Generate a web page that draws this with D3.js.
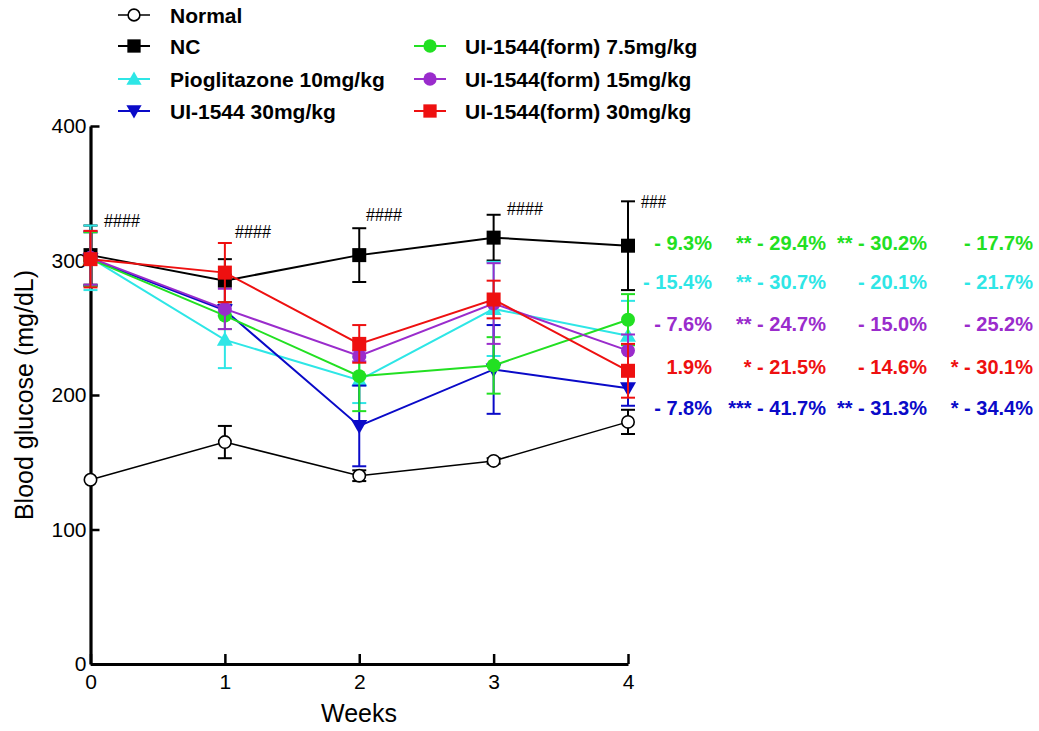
<!DOCTYPE html>
<html>
<head>
<meta charset="utf-8">
<script src="https://cdn.jsdelivr.net/npm/d3@7"></script>
<style>
  html, body { margin: 0; padding: 0; background: #fff; }
  svg { display: block; }
  text { font-family: "Liberation Sans", Arial, sans-serif; }
</style>
</head>
<body>
<svg id="chart" width="1039" height="731"></svg>
<script>
// ---------- data ----------
const weeks = [0, 1, 2, 3, 4];
const weekTickLabels = ["0", "1", "2", "3", "4"];
const yTickValues = [0, 100, 200, 300, 400];

const seriesNames = ["Normal", "NC", "Pioglitazone 10mg/kg", "UI-1544 30mg/kg",
  "UI-1544(form) 7.5mg/kg", "UI-1544(form) 15mg/kg", "UI-1544(form) 30mg/kg"];

const normalMean = [137, 165, 140, 151, 180];
const normalErr  = [0, 12, 4, 2, 9];
const ncMean     = [304, 285, 304, 317, 311];
const ncErr      = [22, 16, 20, 17, 33];
const pioMean    = [302, 241, 211, 264, 244];
const pioErr     = [24, 21, 17, 35, 26];
const ui30Mean   = [301, 263, 177, 219, 205];
const ui30Err    = [20, 4, 30, 33, 13];
const form75Mean = [301, 259, 214, 222, 256];
const form75Err  = [20, 10, 26, 21, 19];
const form15Mean = [302, 264, 229, 268, 233];
const form15Err  = [20, 15, 4, 30, 12];
const form30Mean = [301, 291, 238, 271, 218];
const form30Err  = [21, 22, 14, 14, 20];

const hashLabels = ["####", "####", "####", "####", "###"];

const pctGreen  = ["- 9.3%", "** - 29.4%", "** - 30.2%", "- 17.7%"];
const pctCyan   = ["- 15.4%", "** - 30.7%", "- 20.1%", "- 21.7%"];
const pctPurple = ["- 7.6%", "** - 24.7%", "- 15.0%", "- 25.2%"];
const pctRed    = ["1.9%", "* - 21.5%", "- 14.6%", "* - 30.1%"];
const pctBlue   = ["- 7.8%", "*** - 41.7%", "** - 31.3%", "* - 34.4%"];

// ---------- styles ----------
const C = {
  black: "#000000", cyan: "#2ee6e6", blue: "#0a0ac8",
  green: "#22e022", purple: "#9a2ccc", red: "#ee1010"
};
const series = [
  { name: seriesNames[0], mean: normalMean, err: normalErr, color: C.black, sym: "openCircle", lw: 1.5 },
  { name: seriesNames[1], mean: ncMean, err: ncErr, color: C.black, sym: "square", lw: 2 },
  { name: seriesNames[2], mean: pioMean, err: pioErr, color: C.cyan, sym: "triUp", lw: 2 },
  { name: seriesNames[3], mean: ui30Mean, err: ui30Err, color: C.blue, sym: "triDown", lw: 2 },
  { name: seriesNames[4], mean: form75Mean, err: form75Err, color: C.green, sym: "circle", lw: 2 },
  { name: seriesNames[5], mean: form15Mean, err: form15Err, color: C.purple, sym: "circle", lw: 2 },
  { name: seriesNames[6], mean: form30Mean, err: form30Err, color: C.red, sym: "square", lw: 2 }
];

const svg = d3.select("#chart");
const x = d3.scaleLinear().domain([0, 4]).range([90.5, 628]);
const y = d3.scaleLinear().domain([0, 400]).range([664, 126]);

function drawSymbol(g, sym, color, cx, cy, s) {
  if (sym === "openCircle") {
    g.append("circle").attr("cx", cx).attr("cy", cy).attr("r", 6.2 * s)
      .attr("fill", "#fff").attr("stroke", color).attr("stroke-width", 1.6);
  } else if (sym === "circle") {
    g.append("circle").attr("cx", cx).attr("cy", cy).attr("r", 7 * s).attr("fill", color);
  } else if (sym === "square") {
    const h = 7 * s;
    g.append("rect").attr("x", cx - h).attr("y", cy - h).attr("width", 2 * h).attr("height", 2 * h).attr("fill", color);
  } else if (sym === "triUp") {
    const h = 8 * s;
    g.append("path").attr("d", `M${cx},${cy - h}L${cx + h},${cy + h * 0.75}L${cx - h},${cy + h * 0.75}Z`).attr("fill", color);
  } else if (sym === "triDown") {
    const h = 8 * s;
    g.append("path").attr("d", `M${cx},${cy + h}L${cx + h},${cy - h * 0.75}L${cx - h},${cy - h * 0.75}Z`).attr("fill", color);
  }
}

// ---------- axes ----------
const yAxis = d3.axisLeft(y).tickValues(yTickValues).tickSizeInner(-9).tickSizeOuter(0).tickPadding(4);
const gy = svg.append("g").attr("transform", `translate(${x(0)},0)`).call(yAxis);
gy.select(".domain").attr("stroke-width", 3.2);
gy.selectAll(".tick line").attr("stroke-width", 2.5);
gy.selectAll(".tick text").attr("font-size", 21).attr("fill", "#000");

const xAxis = d3.axisBottom(x).tickValues(weeks).tickFormat((d, i) => weekTickLabels[i])
  .tickSizeInner(-10).tickSizeOuter(0).tickPadding(10);
const gx = svg.append("g").attr("transform", `translate(0,${y(0)})`).call(xAxis);
gx.select(".domain").attr("stroke-width", 3.2);
gx.selectAll(".tick line").attr("stroke-width", 2.5);
gx.selectAll(".tick text").attr("font-size", 21).attr("fill", "#000");

svg.append("text").attr("x", 359).attr("y", 722).attr("text-anchor", "middle")
  .attr("font-size", 25).text("Weeks");
svg.append("text").attr("transform", "translate(33,395) rotate(-90)").attr("text-anchor", "middle")
  .attr("font-size", 25).text("Blood glucose (mg/dL)");

// ---------- series ----------
const line = d3.line().x((d, i) => x(weeks[i])).y(d => y(d));
series.forEach(s => {
  const g = svg.append("g");
  s.mean.forEach((m, i) => {
    const e = s.err[i];
    if (e <= 0) return;
    const cx = x(weeks[i]);
    g.append("line").attr("x1", cx).attr("x2", cx).attr("y1", y(m - e)).attr("y2", y(m + e))
      .attr("stroke", s.color).attr("stroke-width", 2);
    [m - e, m + e].forEach(v => {
      g.append("line").attr("x1", cx - 7).attr("x2", cx + 7).attr("y1", y(v)).attr("y2", y(v))
        .attr("stroke", s.color).attr("stroke-width", 2);
    });
  });
  g.append("path").attr("d", line(s.mean)).attr("fill", "none")
    .attr("stroke", s.color).attr("stroke-width", s.lw);
  s.mean.forEach((m, i) => drawSymbol(g, s.sym, s.color, x(weeks[i]), y(m), 1));
});

// ---------- hash marks ----------
const hashPos = [[104, 227], [235, 238], [366, 221], [507, 215], [641, 208]];
const hashWidth = [36, 36, 36, 36, 25];
hashLabels.forEach((t, i) => {
  svg.append("text").attr("x", hashPos[i][0]).attr("y", hashPos[i][1])
    .attr("font-family", "DejaVu Sans").attr("font-size", 19).attr("fill", "#000")
    .attr("textLength", hashWidth[i]).attr("lengthAdjust", "spacingAndGlyphs").text(t);
});

// ---------- legend ----------
const legendItems = [
  { s: series[0], col: 0, row: 0 }, { s: series[1], col: 0, row: 1 },
  { s: series[2], col: 0, row: 2 }, { s: series[3], col: 0, row: 3 },
  { s: series[4], col: 1, row: 1 }, { s: series[5], col: 1, row: 2 },
  { s: series[6], col: 1, row: 3 }
];
const legRowY = [15, 46, 79, 111];
const legColX = [134, 430];
const legTextX = [170, 465];
legendItems.forEach(it => {
  const g = svg.append("g");
  const cy = legRowY[it.row], cx = legColX[it.col];
  g.append("line").attr("x1", cx - 16).attr("x2", cx + 16).attr("y1", cy).attr("y2", cy)
    .attr("stroke", it.s.color).attr("stroke-width", it.s.lw);
  drawSymbol(g, it.s.sym, it.s.color, cx, cy, 0.95);
  g.append("text").attr("x", legTextX[it.col]).attr("y", cy + 7.5)
    .attr("font-size", 21).attr("font-weight", "bold").attr("fill", "#000").text(it.s.name);
});

// ---------- percentage annotations ----------
const pctRows = [
  { vals: pctGreen, color: C.green },
  { vals: pctCyan, color: C.cyan },
  { vals: pctPurple, color: C.purple },
  { vals: pctRed, color: C.red },
  { vals: pctBlue, color: C.blue }
];
const pctRowY = [250, 289, 331, 374, 415];
const pctColX = [712, 826, 927, 1033];
pctRows.forEach((r, ri) => {
  r.vals.forEach((t, ci) => {
    svg.append("text").attr("x", pctColX[ci]).attr("y", pctRowY[ri])
      .attr("text-anchor", "end").attr("font-size", 20).attr("font-weight", "bold")
      .attr("fill", r.color).text(t);
  });
});
</script>
</body>
</html>
